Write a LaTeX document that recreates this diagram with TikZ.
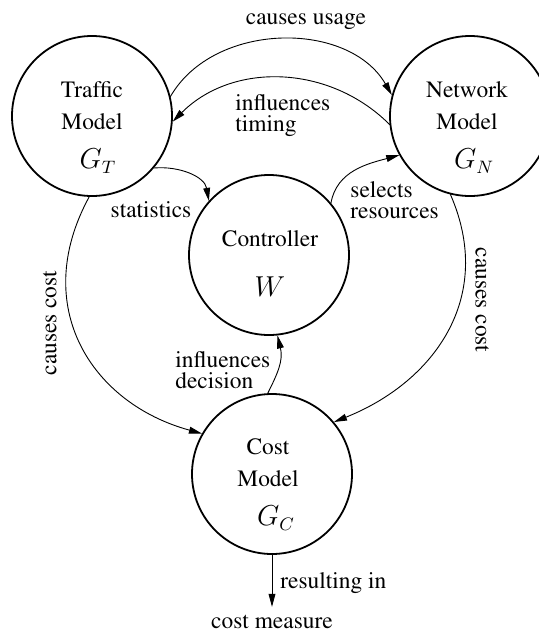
\documentclass[tikz,border=0pt]{standalone}
\usepackage[T1]{fontenc}
\usepackage{times}
\usetikzlibrary{arrows.meta}
\tikzset{
	model/.style={circle, draw, line width=0.9pt, minimum size=80pt, inner sep=0pt},
	flow/.style={-{Triangle[length=6.5pt,width=3.4pt]}, line width=0.45pt},
	lbl/.style={inner sep=0pt, align=left, font=\fontsize{11.7}{10.5}\selectfont},
	sym/.style={inner sep=0pt, font=\fontsize{13.5}{14}\selectfont}
}

\begin{document}
\begin{tikzpicture}[x=0.5pt, y=-0.5pt, line cap=round, line join=round]
	\useasboundingbox (0,0) rectangle (539,632);
	
	% -- the four models ------------------------------------------
	\node[model] (T) at (92,116) {};
	\node[model] (N) at (470,116) {};
	\node[model] (W) at (269,255) {};
	\node[model] (C) at (272,474) {};
	
	% texts inside the circles
	\node[lbl] (tTraffic) at (92,90) {Traffic};
	\node[lbl] (tModelT) at (92,122) {Model};
	\node[sym] (tGT) at (98,161) {$G_T$};
	\node[lbl] (tNetwork) at (467,90) {Network};
	\node[lbl] (tModelN) at (467,122) {Model};
	\node[sym] (tGN) at (474,161) {$G_N$};
	\node[lbl] (tCtrl) at (270,239) {Controller};
	\node[sym] (tW) at (270,287) {$W$};
	\node[lbl] (tCost) at (268,447) {Cost};
	\node[lbl] (tModelC) at (268,479) {Model};
	\node[sym] (tGC) at (276,518) {$G_C$};
	
	% -- edge labels ----------------------------------------------
	\node[lbl] (usage) at (306,22) {causes usage};
	\node[lbl, anchor=west] (timing) at (235,116) {influences\\timing};
	\node[lbl] (stats) at (151,210) {statistics};
	\node[lbl, anchor=west] (select) at (350,200) {selects\\resources};
	\node[lbl, anchor=west] (decide) at (175,370) {influences\\decision};
	\node[lbl, anchor=west] (result) at (280,583) {resulting in};
	\node[lbl] (measure) at (272,622) {cost measure};
	\node[lbl, rotate=90] (costL) at (50,323) {causes cost};
	\node[lbl, rotate=-90] (costR) at (482,300) {causes cost};
	
	% -- connectors -----------------------------------------------
	\draw[flow] (T.14) to[out=60,in=120] (N.165);
	\draw[flow] (N.186) to[out=135,in=45] (T.356);
	\draw[flow] (T.320) to[out=5,in=100] (W.138);
	\draw[flow] (W.40) to[out=80,in=195] (N.209);
	\draw[flow] (T.268) .. controls +(-60,110) and +(-110,-30) .. (C.150);
	\draw[flow] (N.256) .. controls +(45,103) and +(100,-40) .. (C.40);
	\draw[flow] (C.93) .. controls +(10,-20) and +(6,25) .. (W.276);
	\draw[flow, shorten >=4pt] (C.south) -- (measure.north);
	
\end{tikzpicture}
\end{document}
